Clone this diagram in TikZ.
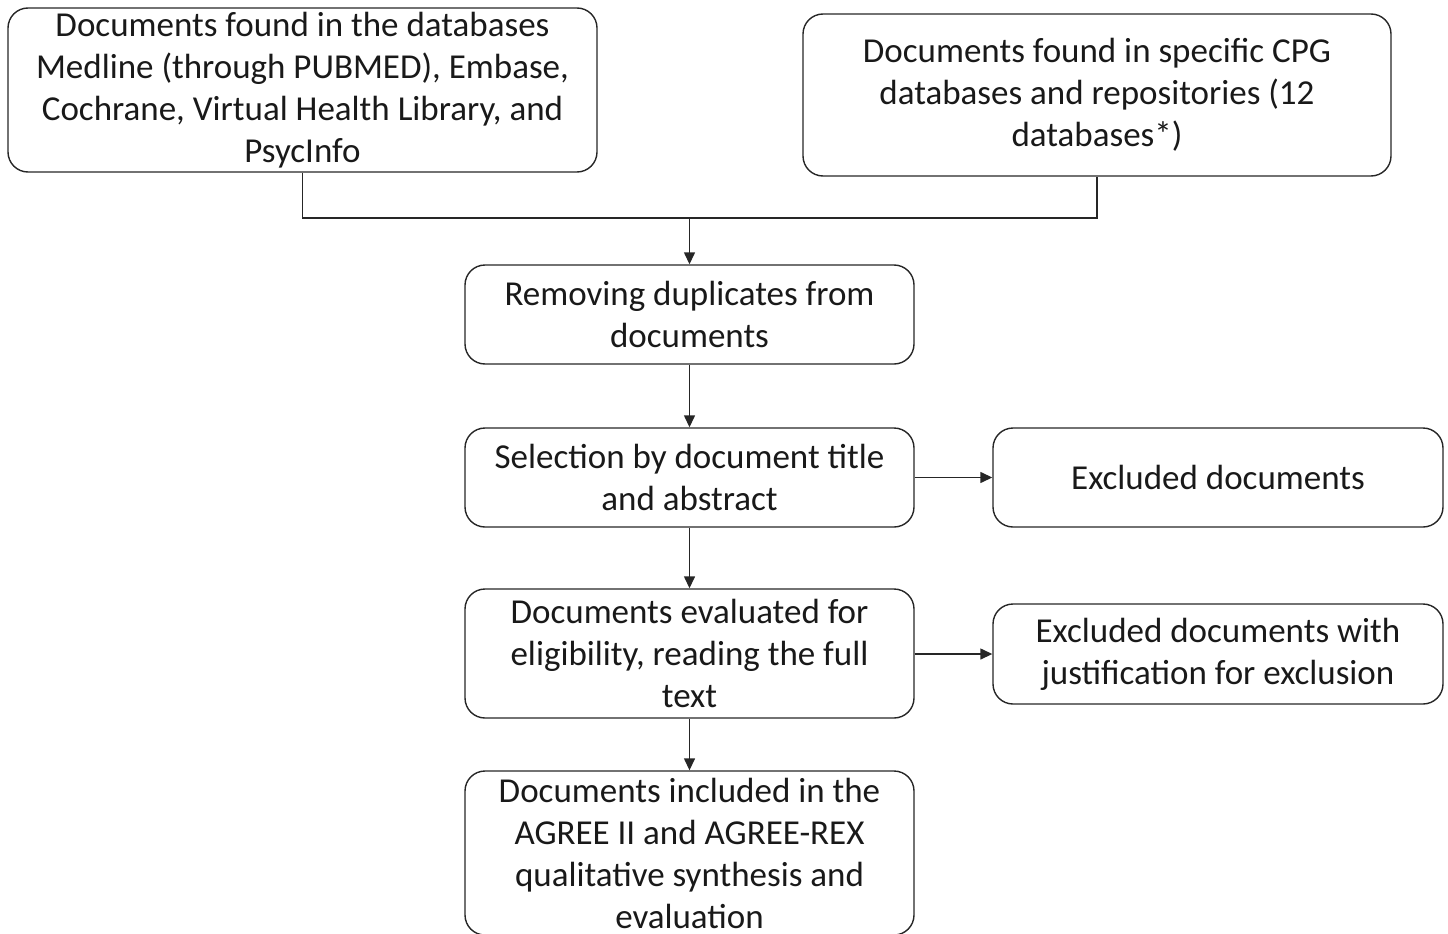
\documentclass[tikz,border=0pt]{standalone}
\usepackage{fontspec}
\setmainfont{Carlito}
\usetikzlibrary{arrows.meta}
\begin{document}
\begin{tikzpicture}[x=1pt,y=-1pt,
  box/.style={draw=black!85, line width=1.4pt, rounded corners=20pt, align=center,
    inner sep=0pt, font=\fontsize{35}{42}\selectfont, text=black!90},
  conn/.style={draw=black!85, line width=1.4pt},
  arr/.style={conn, -{Triangle[length=12pt,width=11pt]}}]
\useasboundingbox (0,0) rectangle (1448,934);
\begin{scope}
\clip (0,0) rectangle (1448,934);
\node[box, minimum width=589pt, minimum height=164pt] (A) at (302.5,90)
  {Documents found in the databases\\Medline (through PUBMED), Embase,\\Cochrane, Virtual Health Library, and\\PsycInfo};
\node[box, minimum width=588pt, minimum height=162pt] (B) at (1097,95)
  {Documents found in specific CPG\\databases and repositories (12\\databases*)};
\node[box, minimum width=449pt, minimum height=99pt] (C) at (689.5,314.5)
  {Removing duplicates from\\documents};
\node[box, minimum width=449pt, minimum height=99pt] (D) at (689.5,477.5)
  {Selection by document title\\and abstract};
\node[box, minimum width=450pt, minimum height=99pt] (E) at (1218,477.5)
  {Excluded documents};
\node[box, minimum width=449pt, minimum height=129pt] (F) at (689.5,653.5)
  {Documents evaluated for\\eligibility, reading the full\\text};
\node[box, minimum width=450pt, minimum height=100pt] (G) at (1218,654)
  {Excluded documents with\\justification for exclusion};
\node[box, minimum width=449pt, minimum height=164pt] (H) at (689.5,853)
  {Documents included in the\\AGREE II and AGREE-REX\\qualitative synthesis and\\evaluation};
\coordinate (J) at (C.north |- 0,218);
\draw[conn] (A.south) |- (J) -| (B.south);
\draw[arr] (J) -- (C.north);
\draw[arr] (C) -- (D);
\draw[arr] (D) -- (E);
\draw[arr] (D) -- (F);
\draw[arr] (F.east |- G.west) -- (G.west);
\draw[arr] (F) -- (H);
\end{scope}
\end{tikzpicture}
\end{document}
